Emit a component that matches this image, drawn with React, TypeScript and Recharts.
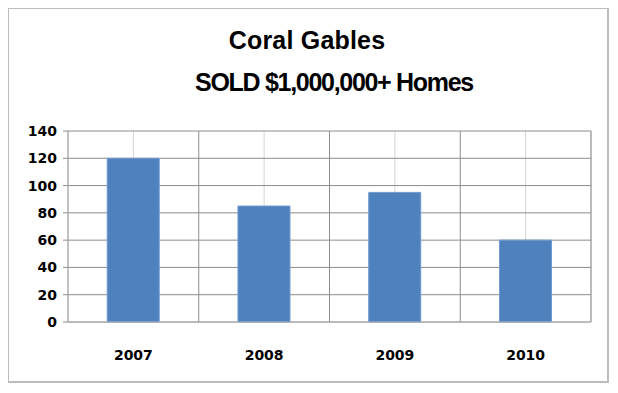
import React from 'react';
import { BarChart, Bar, XAxis, YAxis, CartesianGrid, Customized } from 'recharts';

const years = ['2007', '2008', '2009', '2010'];
const homesSold = [120, 85, 95, 60];
const yTicks = [0, 20, 40, 60, 80, 100, 120, 140];
const titleLines = ['Coral Gables', 'SOLD $1,000,000+ Homes'];

const data = years.map((y, i) => ({ year: y, sold: homesSold[i] }));

const TICK_FONT = { fill: '#000', fontSize: 14, fontWeight: 700, fontFamily: 'DejaVu Sans' };

// category boundaries (Excel draws ticks/gridlines between categories)
const boundaryXs = (offset: any) =>
  Array.from({ length: years.length + 1 }, (_, i) => offset.left + (i * offset.width) / years.length);

const BoundaryTicks = (props: any) => {
  const { offset } = props;
  if (!offset) return null;
  const bottom = offset.top + offset.height;
  return (
    <g>
      {boundaryXs(offset).map((x, i) => (
        <line key={i} x1={x} x2={x} y1={bottom} y2={bottom + 5} stroke="#8c8c8c" />
      ))}
    </g>
  );
};

const Title = () => (
  <g fontFamily="'Liberation Sans', Arial, sans-serif" fontWeight={700} fontSize={25} fill="#000">
    <text x={298} y={40} textAnchor="middle" letterSpacing={0.2}>{titleLines[0]}</text>
    <text x={325} y={82} textAnchor="middle" letterSpacing={-1.3}>{titleLines[1]}</text>
  </g>
);

export default function App() {
  return (
    <div
      style={{
        width: 602,
        height: 376,
        border: '2px solid #bdbdbd',
        marginLeft: -1,
        marginTop: -1,
        boxSizing: 'border-box',
        background: '#fff',
      }}
    >
      <BarChart
        width={598}
        height={372}
        data={data}
        margin={{ top: 122, right: 16, bottom: 9, left: 0 }}
        barCategoryGap="30%"
      >
        <CartesianGrid horizontal={false} stroke="#d4d4d4" />
        <CartesianGrid
          vertical
          horizontal
          stroke="#8c8c8c"
          verticalCoordinatesGenerator={({ offset }: any) => boundaryXs(offset)}
        />
        <XAxis
          dataKey="year"
          tick={TICK_FONT}
          tickLine={false}
          axisLine={{ stroke: '#b0b0b0' }}
          height={50}
          dy={20}
        />
        <YAxis
          domain={[0, 140]}
          ticks={yTicks}
          interval={0}
          width={59}
          tick={TICK_FONT}
          tickSize={5}
          tickLine={{ stroke: '#8c8c8c' }}
          axisLine={{ stroke: '#c8c8c8' }}
          dx={-4}
        />
        <Bar dataKey="sold" fill="#4f81bd" stroke="#6f9ad0" strokeWidth={1} isAnimationActive={false} />
        <Customized component={BoundaryTicks} />
        <Customized component={Title} />
      </BarChart>
    </div>
  );
}
